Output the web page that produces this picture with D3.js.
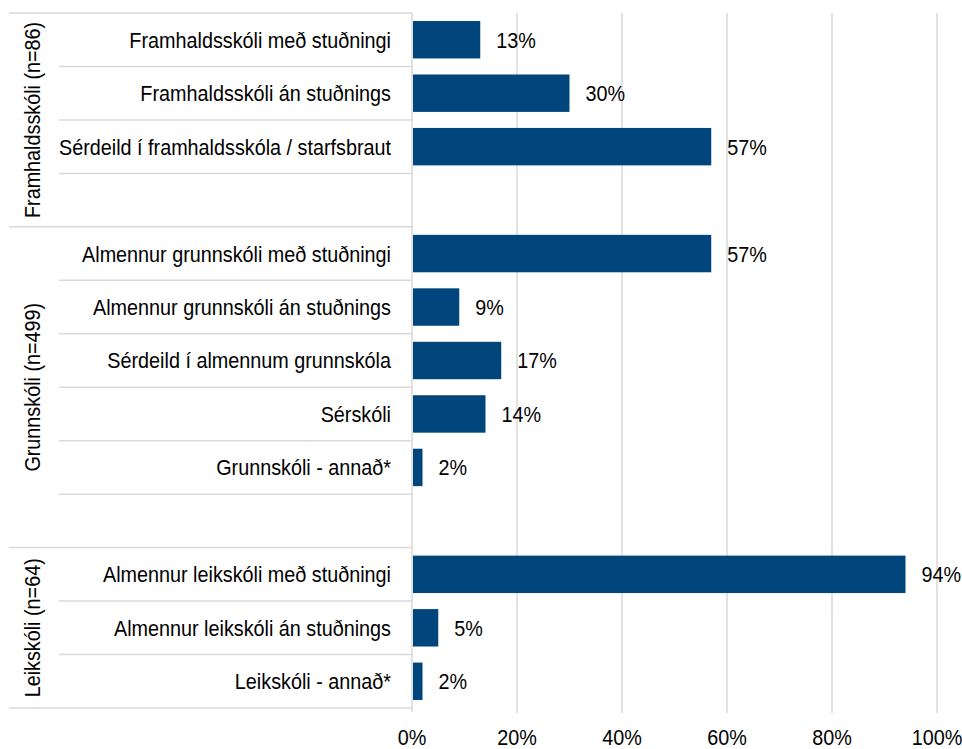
<!DOCTYPE html>
<html>
<head>
<meta charset="utf-8">
<script src="https://cdn.jsdelivr.net/npm/d3@7"></script>
<style>
  body { margin: 0; background: #fff; }
  svg text { font-family: "Liberation Sans", Arial, sans-serif; fill: #000; font-size: 22px; }
</style>
</head>
<body>
<svg width="962" height="749"></svg>
<script>
// rows top to bottom; "" = empty spacer row
var groups = ["Framhaldsskóli (n=86)", "Grunnskóli (n=499)", "Leikskóli (n=64)"];
var groupRows = [4, 6, 3];
var categories = [
  "Framhaldsskóli með stuðningi", "Framhaldsskóli án stuðnings", "Sérdeild í framhaldsskóla / starfsbraut", "",
  "Almennur grunnskóli með stuðningi", "Almennur grunnskóli án stuðnings", "Sérdeild í almennum grunnskóla", "Sérskóli", "Grunnskóli - annað*", "",
  "Almennur leikskóli með stuðningi", "Almennur leikskóli án stuðnings", "Leikskóli - annað*"
];
var values = [13, 30, 57, null, 57, 9, 17, 14, 2, null, 94, 5, 2];
var ticks = [0, 20, 40, 60, 80, 100];

var svg = d3.select("svg"),
    mLeft = 412, mRight = 937, mTop = 13, mBottom = 708,
    squeeze = 0.9; // reference font is narrow

var x = d3.scaleLinear().domain([0, 100]).range([mLeft, mRight]);
var y = d3.scaleBand().domain(d3.range(categories.length)).range([mTop, mBottom]).paddingInner(0.3).paddingOuter(0.15);
var step = y.step();

function at(px, py) { return "translate(" + px + "," + py + ") scale(" + squeeze + ",1)"; }

// gridlines
svg.append("g").selectAll("line")
    .data(ticks.slice(1))
    .enter().append("line")
      .attr("x1", function(d) { return x(d); })
      .attr("x2", function(d) { return x(d); })
      .attr("y1", mTop)
      .attr("y2", mBottom + 5)
      .attr("stroke", "#d9d9d9")
      .attr("stroke-width", 1.5);

// row separators
var rowLines = d3.range(categories.length + 1);
var groupStarts = [0];
groupRows.forEach(function(n, i) { groupStarts.push(groupStarts[i] + n); });

svg.append("g").selectAll("line")
    .data(rowLines)
    .enter().append("line")
      .attr("x1", function(d) { return groupStarts.indexOf(d) >= 0 ? 9 : 59; })
      .attr("x2", mLeft)
      .attr("y1", function(d) { return mTop + d * step; })
      .attr("y2", function(d) { return mTop + d * step; })
      .attr("stroke", "#d9d9d9")
      .attr("stroke-width", 1.5);

// axis line
svg.append("line")
    .attr("x1", mLeft).attr("x2", mLeft)
    .attr("y1", mTop).attr("y2", mBottom + 4)
    .attr("stroke", "#d9d9d9")
    .attr("stroke-width", 1.5);

// bars
var rows = categories.map(function(c, i) { return { cat: c, value: values[i], i: i }; });

svg.append("g").selectAll("rect")
    .data(rows.filter(function(d) { return d.value != null; }))
    .enter().append("rect")
      .attr("x", x(0) + 1)
      .attr("y", function(d) { return y(d.i); })
      .attr("width", function(d) { return x(d.value) - x(0) - 1; })
      .attr("height", y.bandwidth())
      .attr("fill", "#00467d");

// value labels
svg.append("g").selectAll("text")
    .data(rows.filter(function(d) { return d.value != null; }))
    .enter().append("text")
      .attr("transform", function(d) { return at(x(d.value) + 16, y(d.i) + y.bandwidth() / 2); })
      .attr("dy", "0.36em")
      .text(function(d) { return d.value + "%"; });

// category labels
svg.append("g").selectAll("text")
    .data(rows)
    .enter().append("text")
      .attr("transform", function(d) { return at(391, mTop + (d.i + 0.5) * step); })
      .attr("dy", "0.36em")
      .attr("text-anchor", "end")
      .text(function(d) { return d.cat; });

// group labels
svg.append("g").selectAll("text")
    .data(groups)
    .enter().append("text")
      .attr("transform", function(d, i) {
        var cy = mTop + (groupStarts[i] + groupRows[i] / 2) * step;
        return "translate(32," + cy + ") rotate(-90) scale(" + squeeze + ",1)";
      })
      .attr("dy", "0.36em")
      .attr("text-anchor", "middle")
      .text(function(d) { return d; });

// x axis labels
svg.append("g").selectAll("text")
    .data(ticks)
    .enter().append("text")
      .attr("transform", function(d) { return at(x(d), 745); })
      .attr("text-anchor", "middle")
      .text(function(d) { return d + "%"; });
</script>
</body>
</html>
